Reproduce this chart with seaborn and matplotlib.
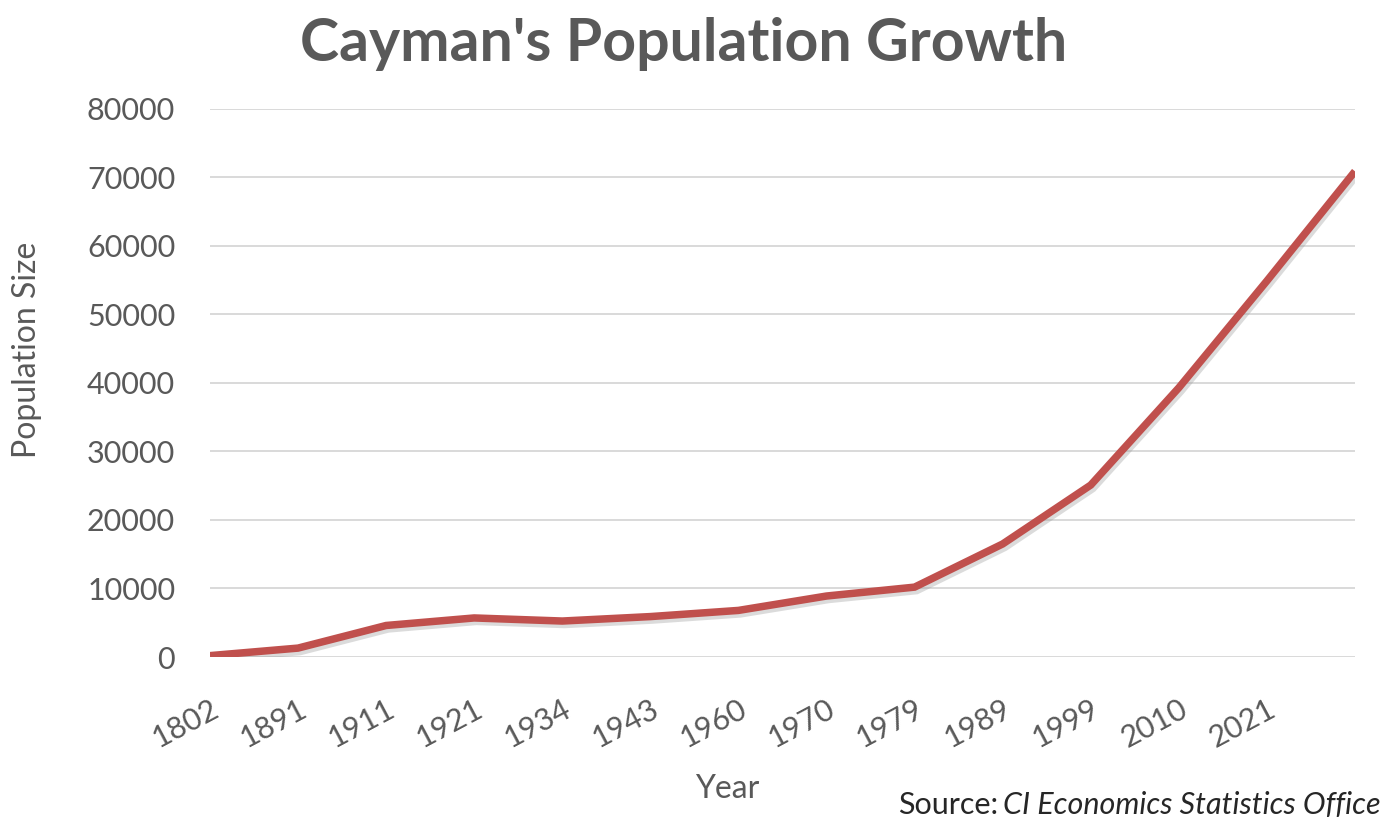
import matplotlib
matplotlib.use("Agg")
import matplotlib.pyplot as plt
import matplotlib.patheffects as pe
import seaborn as sns
import pandas as pd
import numpy as np

# Data (14 plotted points, 13 category labels)
year_labels = ["1802", "1891", "1911", "1921", "1934", "1943", "1960",
               "1970", "1979", "1989", "1999", "2010", "2021"]
population = [200, 1300, 4600, 5700, 5250, 5900, 6800,
              8900, 10200, 16500, 25100, 39300, 54900, 70900]

sns.set_theme(style="white")
plt.rcParams['font.family'] = ['Lato', 'DejaVu Sans']

GRAY = "#595959"
RED = "#C0504D"

df = pd.DataFrame({"pos": np.arange(len(population)), "population": population})

fig = plt.figure(figsize=(13.96, 8.23), dpi=100)
ax = fig.add_axes([0.1504, 0.2017, 0.9706 - 0.1504, 0.8676 - 0.2017])

sns.lineplot(data=df, x="pos", y="population", ax=ax, color=RED, linewidth=5.4,
             solid_joinstyle="miter", solid_capstyle="butt",
             path_effects=[pe.SimpleLineShadow(offset=(1.5, -2.5), shadow_color="#999999", alpha=0.35),
                           pe.Normal()])

ax.set_xlim(0, len(population) - 1)
ax.set_ylim(0, 80000)
ax.set_yticks(np.arange(0, 80001, 10000))
ax.set_yticklabels([str(v) for v in range(0, 80001, 10000)], fontsize=22, color=GRAY)
ax.yaxis.grid(True, color="#D9D9D9", linewidth=1.4)
ax.xaxis.grid(False)
for s in ax.spines.values():
    s.set_visible(False)
ax.tick_params(axis="y", length=0, pad=25)
ax.tick_params(axis="x", length=0, pad=27)

ax.set_xticks(np.arange(len(year_labels)))
ax.set_xticklabels(year_labels, rotation=28, ha="right", va="top",
                   rotation_mode="anchor", fontsize=22, color=GRAY)

ax.set_xlabel("")
ax.set_ylabel("")

fig.text(727 / 1396, 1 - 789 / 823, "Year", ha="center", va="center",
         fontsize=23, color=GRAY)
fig.text(27 / 1396, 1 - 350 / 823, "Population Size", ha="center", va="center",
         rotation=90, fontsize=23, color=GRAY)
fig.text(684 / 1396, 1 - 44 / 823, "Cayman's Population Growth", ha="center", va="center",
         fontsize=42.5, fontweight="bold", color=GRAY)

t1 = fig.text(1381 / 1396, 1 - 805 / 823, "CI Economics Statistics Office", ha="right",
              va="center", fontsize=22, style="italic", color="#262626")
fig.canvas.draw()
bb = t1.get_window_extent()
fig.text((bb.x0 - 5) / 1396, 1 - 805 / 823, "Source:", ha="right", va="center",
         fontsize=22, color="#262626")

fig.savefig("out.png", dpi=100, facecolor="white")
